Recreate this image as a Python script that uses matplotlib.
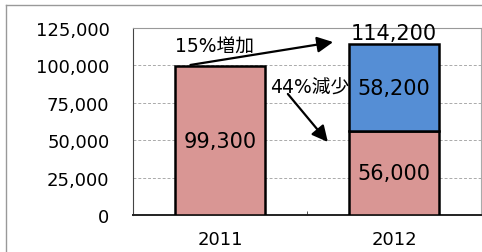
import matplotlib
matplotlib.use('Agg')
import matplotlib.pyplot as plt
from matplotlib.lines import Line2D

plt.rcParams['font.family'] = ['DejaVu Sans', 'Noto Sans CJK JP']

years = ['2011', '2012']
lower = [99300, 56000]
upper = [0, 58200]
totals = [99300, 114200]
yticks = [0, 25000, 50000, 75000, 100000, 125000]

pink = '#D99694'
blue = '#558ED5'


def main():
    fig = plt.figure(figsize=(4.82, 2.53), dpi=100)
    ax = fig.add_axes([133 / 482, 37 / 253, 348 / 482, 187 / 253])

    x = [0, 1]
    w = 0.52
    ax.bar(x, lower, width=w, color=pink, edgecolor='black', linewidth=1.8, zorder=3)
    ax.bar(x[1], upper[1], bottom=lower[1], width=w, color=blue,
           edgecolor='black', linewidth=1.8, zorder=3)

    # value labels
    ax.text(x[0], lower[0] / 2, f'{lower[0]:,}', ha='center', va='center', fontsize=15, zorder=5)
    ax.text(x[1], lower[1] / 2, f'{lower[1]:,}', ha='center', va='center', fontsize=15, zorder=5)
    ax.text(x[1], lower[1] + upper[1] / 2, f'{upper[1]:,}', ha='center', va='center', fontsize=15, zorder=5)
    ax.text(x[1], totals[1] + 500, f'{totals[1]:,}', ha='center', va='bottom', fontsize=15,
            zorder=5, clip_on=False)

    # change annotations
    ax.annotate('', xy=(0.65, 115600), xytext=(-0.17, 100300),
                arrowprops=dict(arrowstyle='-|>', color='black', lw=1.6, mutation_scale=24,
                                shrinkA=0, shrinkB=0), zorder=6)
    ax.text(-0.26, 113000, '15%増加', ha='left', va='center', fontsize=13.5, zorder=6)
    ax.annotate('', xy=(0.62, 48800), xytext=(0.39, 80900),
                arrowprops=dict(arrowstyle='-|>', color='black', lw=1.6, mutation_scale=24,
                                shrinkA=0, shrinkB=0), zorder=6)
    ax.text(0.285, 85600, '44%減少', ha='left', va='center', fontsize=13.5, zorder=6)

    ax.set_xlim(-0.5, 1.5)
    ax.set_ylim(0, 125000)
    ax.set_yticks(yticks)
    ax.set_yticklabels([f'{v:,}' for v in yticks], fontsize=13)
    ax.tick_params(axis='y', length=0, pad=17)
    ax.set_xticks(x)
    ax.set_xticklabels(years, fontsize=13)
    ax.tick_params(axis='x', length=0, pad=11)
    ax.set_xticks([0.5], minor=True)
    ax.tick_params(axis='x', which='minor', direction='in', length=3, color='#333333')

    for v in yticks[1:-1]:
        ax.axhline(v, color='#aaaaaa', lw=0.7, ls=(0, (3, 2)), zorder=1)

    ax.spines['left'].set_color('#444444')
    ax.spines['bottom'].set_color('#222222')
    ax.spines['bottom'].set_linewidth(1.4)
    ax.spines['top'].set_color('#999999')
    ax.spines['right'].set_color('#aaaaaa')

    # outer chart border (top and left only visible)
    fig.add_artist(Line2D([5.5 / 482, 1.0], [1 - 5.5 / 253] * 2, color='#999999', lw=1))
    fig.add_artist(Line2D([5.5 / 482] * 2, [0, 1 - 5.5 / 253], color='#999999', lw=1))

    fig.savefig('out.png', dpi=100)


if __name__ == '__main__':
    main()
